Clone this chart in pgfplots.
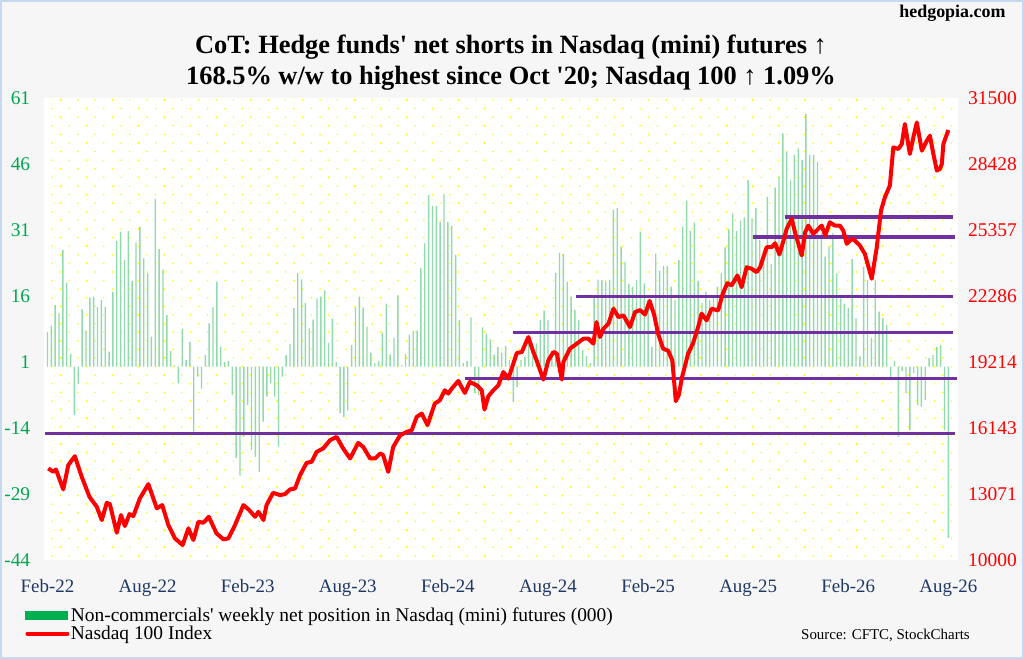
\documentclass[border=0pt]{standalone}
\usepackage{fontspec}
\setmainfont{Liberation Serif}
\usepackage{pgfplots}
\pgfplotsset{compat=1.18}
\usepackage{pgfplotstable}
\usetikzlibrary{patterns}

\definecolor{bgout}{RGB}{246,246,246}
\definecolor{bordercol}{RGB}{197,217,241}
\definecolor{barcol}{RGB}{145,218,172}
\definecolor{leggreen}{RGB}{0,176,80}
\definecolor{lgreen}{RGB}{0,166,81}
\definecolor{purp}{RGB}{112,48,160}
\definecolor{navy}{RGB}{31,56,100}
\definecolor{dotyellow}{RGB}{255,255,0}

\pgfdeclarepatternformonly{ydots}{\pgfqpoint{-1bp}{-1bp}}{\pgfqpoint{18.3bp}{18.2bp}}{\pgfqpoint{17.3bp}{17.2bp}}{%
  \pgfpathcircle{\pgfqpoint{0bp}{0bp}}{0.95bp}%
  \pgfpathcircle{\pgfqpoint{8.65bp}{8.6bp}}{0.95bp}%
  \pgfusepath{fill}}

\pgfplotstableread{
i v
0 7.9
1 9.3
2 14
3 12.1
4 26.5
5 19.1
6 2.9
7 -11
8 -4
9 13
10 8.2
11 15.7
12 15.9
13 13.5
14 15.1
15 13.6
16 3.4
17 17
18 28.5
19 30.7
20 24.2
21 30.8
22 19.5
23 28.2
24 31.8
25 24.6
26 21.2
27 6.8
28 38.1
29 26.7
30 22.1
31 11.7
32 3.5
33 0.3
34 -3.8
35 8.6
36 1.5
37 5.7
38 -14.8
39 -2.3
40 -5
41 2.6
42 9.8
43 13.5
44 19.3
45 4.5
46 1.1
47 1.3
48 -6.5
49 -20.8
50 -24.8
51 -15.9
52 -8.7
53 -18.9
54 -20.5
55 -23.9
56 -12.5
57 -6.8
58 -3.8
59 -6.8
60 -18.2
61 -2.3
62 2.6
63 5.1
64 13.3
65 21.3
66 19.8
67 14.5
68 8.7
69 10.7
70 15.5
71 15.9
72 17.3
73 5.4
74 10.9
75 1.1
76 -10.6
77 -11.4
78 -10
79 4.9
80 13.6
81 15.9
82 13.4
83 9.1
84 3.2
85 0.8
86 1.3
87 7.7
88 14.3
89 2.7
90 6.6
91 16.2
92 0.3
93 2.9
94 7.2
95 8.2
96 8.2
97 22.3
98 28
99 39
100 36.5
101 36.5
102 32.9
103 39.2
104 32.9
105 32
106 25.4
107 10.6
108 0.8
109 1.3
110 11.2
111 -6
112 -6.5
113 8.9
114 7.5
115 6.2
116 2.7
117 4.5
118 3.2
119 4.7
120 1.5
121 -8
122 -4.6
123 1.5
124 2.3
125 5.3
126 2.3
127 5.3
128 10.6
129 12.7
130 10.6
131 3.4
132 21.3
133 25.9
134 25.6
135 19.3
136 15.9
137 12.9
138 10.6
139 3.8
140 2.4
141 0.8
142 15.9
143 19.7
144 19.7
145 19.3
146 19.7
147 35.6
148 36
149 27.2
150 23.8
151 18.8
152 18.2
153 19.7
154 30.7
155 18.9
156 14.5
157 4.5
158 25.7
159 21.8
160 22.9
161 22.9
162 18.2
163 15.1
164 24.2
165 31.8
166 37.7
167 30.9
168 32.7
169 19.5
170 14.4
171 17
172 15.1
173 15.9
174 18.2
175 21.2
176 27.1
177 31.2
178 34.8
179 30.8
180 33.2
181 33.9
182 42.4
183 33.7
184 36.1
185 28.8
186 25
187 38.6
188 23.3
189 40.7
190 43.2
191 53
192 48.8
193 42.3
194 48.1
195 49.6
196 47
197 57.4
198 48.1
199 48.1
200 46.6
201 30.3
202 25
203 27.3
204 30.3
205 21.2
206 15.5
207 14.3
208 13.3
209 24.4
210 11
211 2.3
212 22.7
213 19.7
214 6.6
215 19.7
216 12.5
217 11
218 9.5
219 -2.4
220 1.3
221 -15.9
222 -1
223 -6.1
224 -14.4
225 -1.5
226 -8.7
227 -9.1
228 -7.6
229 1.9
230 2.6
231 4.5
232 4.9
233 -14.4
234 -39
}\netpos

\pgfplotstableread{
i r
0.2 14270
1.5 14112
2.2 14223
4.1 13294
5.4 14423
7.1 14841
8.9 13879
10.9 12950
12.8 12486
14.1 11868
15.4 12671
16.2 12611
18 11278
19.1 12100
20.1 11589
21.3 12146
22.3 12054
24 12876
26.2 13540
28.4 12411
29.8 12565
31.4 11635
33.1 11017
35.1 10706
36.6 11482
37.9 10939
39.2 11789
40.5 11742
41.9 12021
43.9 11250
45.7 10971
47 11017
48.7 11635
50.9 12565
52.4 12332
53.9 12021
54.8 12253
56.1 11868
56.9 12565
58.6 13136
60.4 13029
61.7 13076
63 13294
64.3 13340
65.6 13958
67.3 14530
68.6 14576
69.9 15041
71.6 15199
73.4 15585
75.1 15738
76.8 15199
78.6 14734
80.7 15459
82 15273
83.8 14734
85.1 14734
86.4 14966
87.2 14888
88.5 14112
89.8 15273
91.6 15817
93.3 15970
94.6 16049
95.9 16667
97.2 16825
98.7 16281
100.6 17290
101.9 17443
103.2 17908
104.1 17754
105 17986
106.7 18340
108.4 17782
109.7 18293
111.5 18140
112.8 17908
113.5 17011
114.5 17629
115.8 17908
117.1 18140
118.4 18758
119.7 18451
121 19148
121.9 19641
123.2 19687
124.9 20384
126.2 19687
127.2 19222
128.8 18405
130.1 19301
131.4 19687
132.3 19613
133.6 18405
134 19222
135.7 19845
137.5 20077
139.2 20310
140.5 20310
141.8 20077
142.6 21081
143.5 20384
144.4 20773
145.7 21006
147 21703
148.3 21313
149.6 21392
151.3 20849
152.6 21545
153.9 21640
155.2 21430
156.4 22070
157.6 21400
158.6 20542
159.9 19845
161.2 19750
162.3 19301
163.2 17400
164 17700
164.8 18500
166.4 19613
167.7 20106
169 20849
169.9 21471
171.2 21160
172.5 21703
174.2 21624
175.4 22400
176.6 22893
177.7 22786
179.2 23250
180.3 22707
181.6 23636
182.9 23562
184.2 23404
185.1 23636
186.8 24565
188.1 24565
189 24751
190.1 24226
191.3 24956
192 25420
193.3 25885
194.2 25230
195 24750
195.9 24180
196.8 25262
197.6 25573
198.9 25188
200.2 25420
201.1 25573
202 25109
203.2 25727
204.5 25573
205.8 25573
206.7 25341
207.6 24723
208.9 24956
209.7 24877
211 24645
212.3 24258
214.1 23097
215.4 24565
216.5 26270
217.5 26888
218.8 27432
219.7 29211
221 29137
221.9 29370
222.7 30299
224 28905
224.9 29676
225.8 30373
227.1 29058
228.4 29523
229.2 29755
230.1 28905
231 28129
231.8 28208
232.3 28440
232.7 29370
234 30019
}\ndx

\begin{document}
\begin{tikzpicture}
\useasboundingbox (0bp,0bp) rectangle (1024bp,659bp);
\fill[bgout] (0bp,0bp) rectangle (1024bp,659bp);
\draw[bordercol, line width=2bp] (1bp,1bp) rectangle (1023bp,658bp);

\node[font=\fontsize{26.5}{31}\selectfont\bfseries, align=center] at (511bp,596bp)
  {CoT: Hedge funds\textquotesingle{} net shorts in Nasdaq (mini) futures ↑\\
   168.5\% w/w to highest since Oct \textquotesingle20; Nasdaq 100 ↑ 1.09\%};
\node[font=\fontsize{18}{20}\selectfont\bfseries, anchor=east] at (1009bp,646bp) {hedgopia.com};
\node[font=\fontsize{15}{17}\selectfont, anchor=west, inner sep=0pt] at (801bp,24bp) {Source: CFTC, StockCharts};

\begin{axis}[
  at={(44.4bp,98.8bp)}, anchor=south west, scale only axis,
  width=913.6bp, height=462bp,
  xmin=-0.8, xmax=236.5, ymin=-44, ymax=61,
  axis line style={draw=none}, major tick length=0pt,
  scaled ticks=false,
  xtick={0,26,52,78,104,130,156,182,208,234},
  xticklabels={Feb-22,Aug-22,Feb-23,Aug-23,Feb-24,Aug-24,Feb-25,Aug-25,Feb-26,Aug-26},
  ytick={-44,-29,-14,1,16,31,46,61},
  yticklabels={-44,-29,-14,1,16,31,46,61},
  yticklabel style={text=lgreen, font=\fontsize{19.5}{20}\selectfont, anchor=east, inner sep=0pt, xshift=-14bp},
  xticklabel style={text=navy, font=\fontsize{19}{20}\selectfont, anchor=base, inner sep=0pt, yshift=-32bp},
  axis background/.style={fill=white, postaction={pattern=ydots, pattern color=dotyellow}},
]
\addplot[ybar, bar width=1.4bp, bar shift=0pt, fill=barcol, draw=none] table[x=i, y=v] {\netpos};
\end{axis}

\begin{axis}[
  at={(44.4bp,98.8bp)}, anchor=south west, scale only axis,
  width=913.6bp, height=462bp,
  xmin=-0.8, xmax=236.5, ymin=10000, ymax=31500,
  axis line style={draw=none}, major tick length=0pt,
  scaled ticks=false,
  xtick=\empty,
  ytick={10000,13071.43,16142.86,19214.29,22285.71,25357.14,28428.57,31500},
  yticklabels={10000,13071,16143,19214,22286,25357,28428,31500},
  yticklabel pos=right,
  yticklabel style={text=red, font=\fontsize{19.5}{20}\selectfont, anchor=west, inner sep=0pt, xshift=10bp},
  legend style={at={(-0.0212,-0.099)}, anchor=north west, draw=none, fill=none,
    font=\fontsize{19.5}{21}\selectfont, inner sep=0pt, row sep=0.5bp,
    nodes={inner sep=1.5bp}},
  legend cell align=left,
]
\addlegendimage{legend image code/.code={\fill[leggreen] (0bp,-4bp) rectangle (42bp,4bp);}}
\addlegendentry{Non-commercials\textquotesingle{} weekly net position in Nasdaq (mini) futures (000)}
\addplot[purp, line width=3.5bp, forget plot] coordinates {(-0.65,15896) (235.7,15896)};
\addplot[purp, line width=3.5bp, forget plot] coordinates {(108.4,18451) (236.2,18451)};
\addplot[purp, line width=3.5bp, forget plot] coordinates {(120.9,20588) (235.2,20588)};
\addplot[purp, line width=3.5bp, forget plot] coordinates {(137.2,22275) (235.1,22275)};
\addplot[purp, line width=3.5bp, forget plot] coordinates {(183.2,25030) (235.8,25030)};
\addplot[purp, line width=3.5bp, forget plot] coordinates {(191.6,25960) (235.3,25960)};
\addplot[red, line width=4bp, line join=round,
  legend image code/.code={\draw[red, line width=4bp, line cap=round] (2bp,0bp) -- (42bp,0bp);}]
  table[x=i, y=r] {\ndx};
\addlegendentry{Nasdaq 100 Index}
\end{axis}
\end{tikzpicture}
\end{document}
